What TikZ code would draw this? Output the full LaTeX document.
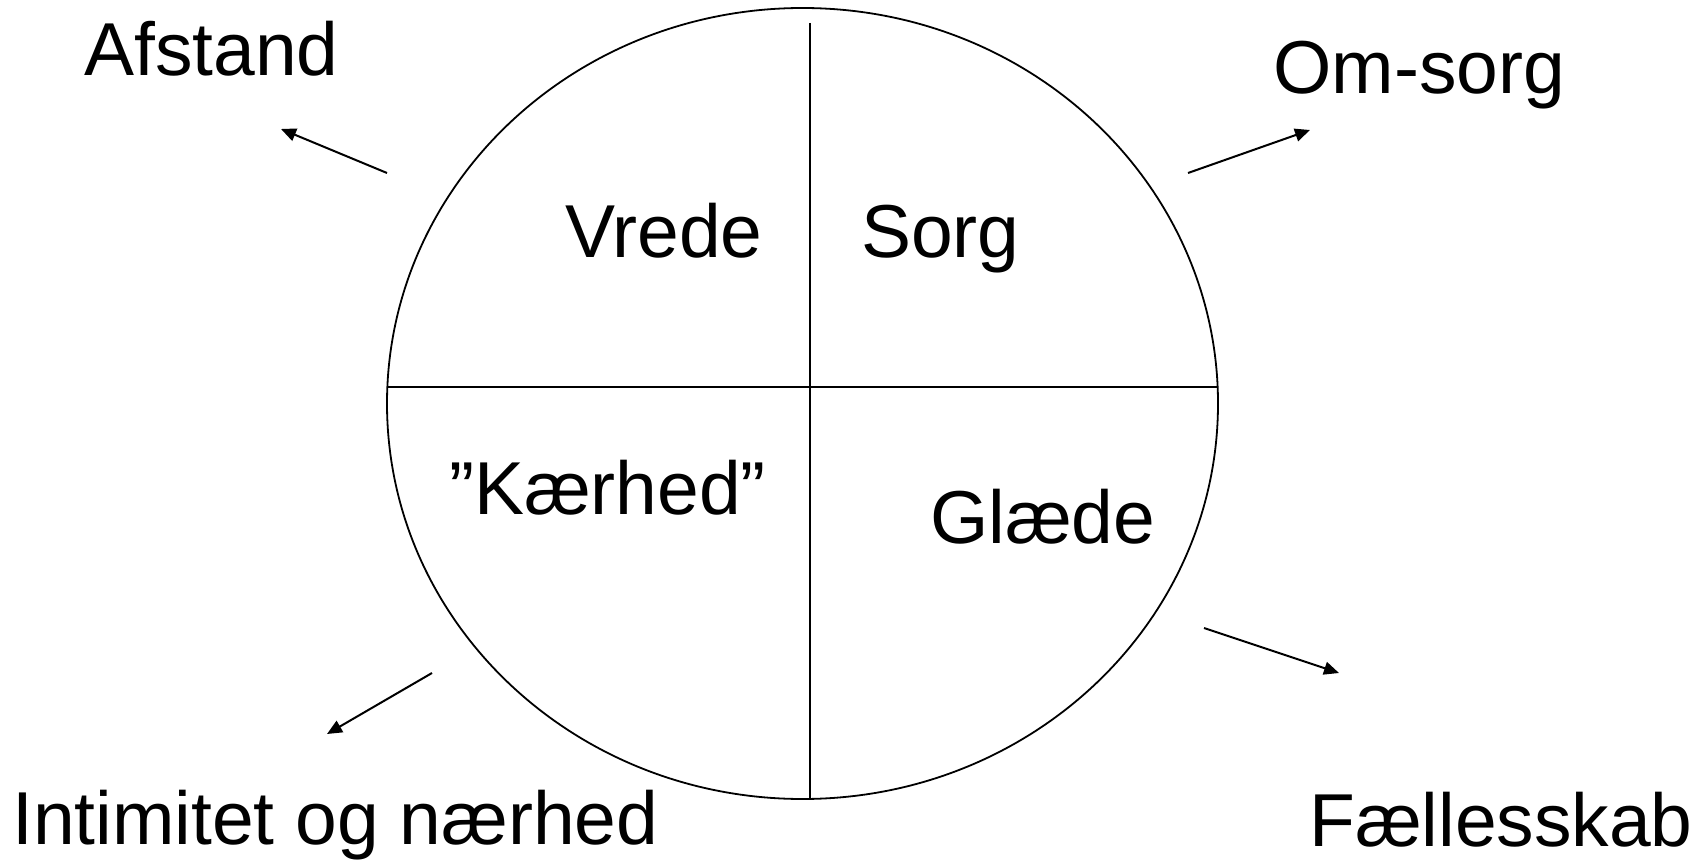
\documentclass[tikz,border=0pt]{standalone}
\usepackage{fontspec}
\setmainfont{Liberation Sans}
\usetikzlibrary{arrows.meta}
\begin{document}
\begin{tikzpicture}[x=1pt,y=-1pt,
  lbl/.style={anchor=base west,inner sep=0pt,font=\fontsize{75}{80}\selectfont},
  ln/.style={line width=1.8pt,black},
  arr/.style={line width=2pt,-{Triangle[length=15pt,width=13pt]}}]
\useasboundingbox[fill=white] (0,0) rectangle (1697,861);
\coordinate (c) at (802.5,403.5);
\draw[ln] (c) ellipse [x radius=415.5, y radius=395.5];
\coordinate (vt) at (810,23);
\coordinate (vb) at (810,798);
\coordinate (hl) at (387,387);
\coordinate (hr) at (1218,387);
\draw[ln] (vt) -- (vb);
\draw[ln] (hl) -- (hr);
\node[lbl] (afstand) at (84,76) {Afstand};
\node[lbl] (omsorg) at (1273,94) {Om-sorg};
\node[lbl] (vrede) at (565,258) {Vrede};
\node[lbl] (sorg) at (861,258) {Sorg};
\node[lbl] (kaer) at (449,514) {”Kærhed”};
\node[lbl] (glaede) at (930,543) {Glæde};
\node[lbl] (intim) at (12,844) {Intimitet og nærhed};
\node[lbl] (faelles) at (1309,846) {Fællesskab};
\coordinate (a1s) at (387,173); \coordinate (a1e) at (281,129);
\coordinate (a2s) at (1188,173); \coordinate (a2e) at (1310,130);
\coordinate (a3s) at (432,673); \coordinate (a3e) at (327,734);
\coordinate (a4s) at (1204,628); \coordinate (a4e) at (1339,673);
\draw[arr] (a1s) -- (a1e);
\draw[arr] (a2s) -- (a2e);
\draw[arr] (a3s) -- (a3e);
\draw[arr] (a4s) -- (a4e);
\end{tikzpicture}
\end{document}
